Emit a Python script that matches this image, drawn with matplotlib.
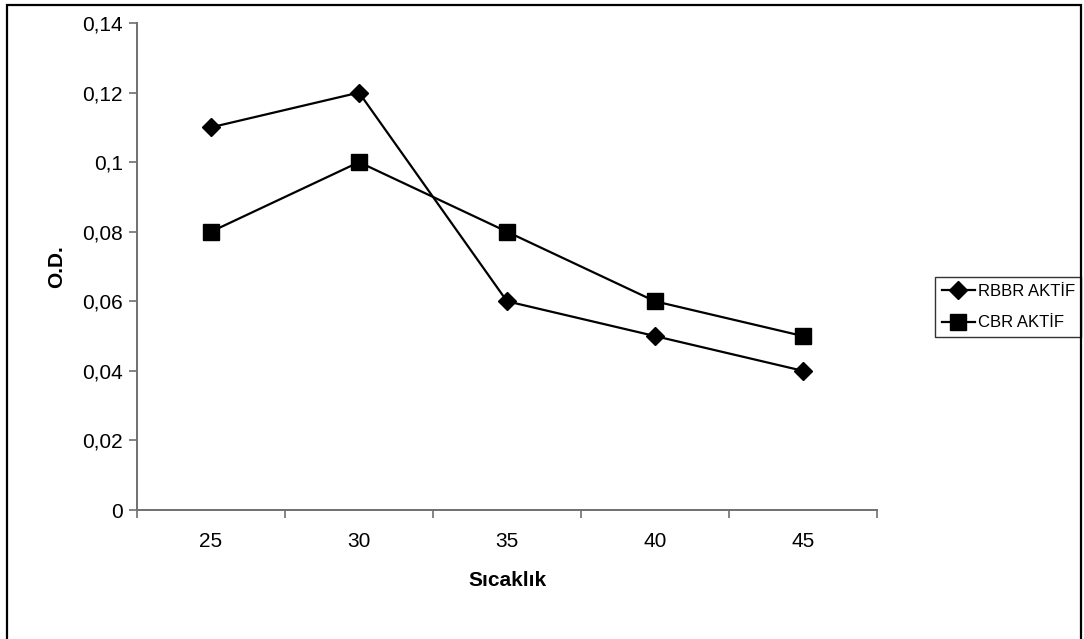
import matplotlib
matplotlib.use("Agg")
import matplotlib.pyplot as plt
from matplotlib.patches import Rectangle

categories = ["25", "30", "35", "40", "45"]
rbbr = [0.11, 0.12, 0.06, 0.05, 0.04]
cbr = [0.08, 0.10, 0.08, 0.06, 0.05]
yticks = [0, 0.02, 0.04, 0.06, 0.08, 0.10, 0.12, 0.14]
ytick_labels = ["0", "0,02", "0,04", "0,06", "0,08", "0,1", "0,12", "0,14"]

plt.rcParams['font.family'] = ['Liberation Sans', 'DejaVu Sans']
W, H = 1084, 639
fig = plt.figure(figsize=(W / 100, H / 100), dpi=100)
fig.patch.set_facecolor("white")

# outer border
fig.add_artist(Rectangle((7 / W, -0.05), (1081 - 7) / W, 1.05 - 4.5 / H,
                         transform=fig.transFigure, fill=False,
                         edgecolor="black", linewidth=1.6))

ax = fig.add_axes([137 / W, 1 - 510 / H, (877 - 137) / W, (510 - 23) / H])
x = list(range(len(categories)))
ax.plot(x, rbbr, color="black", lw=1.6, marker="D", markersize=9.5,
        label="RBBR AKTİF")
ax.plot(x, cbr, color="black", lw=1.6, marker="s", markersize=11,
        label="CBR AKTİF")

ax.set_xlim(-0.5, len(categories) - 0.5)
ax.set_ylim(0, 0.14)
ax.set_yticks(yticks)
ax.set_yticklabels(ytick_labels, fontsize=15)
ax.set_xticks(x)
ax.set_xticklabels(categories, fontsize=15)
ax.set_xticks([i - 0.5 for i in range(len(categories) + 1)], minor=True)
ax.tick_params(axis="x", which="major", length=0, pad=16)
ax.tick_params(axis="x", which="minor", length=6, color="#707070", width=1.2)
ax.tick_params(axis="y", length=6, color="#707070", width=1.2, pad=4)
for s in ["top", "right"]:
    ax.spines[s].set_visible(False)
for s in ["left", "bottom"]:
    ax.spines[s].set_color("#707070")
    ax.spines[s].set_linewidth(1.4)

ax.set_xlabel("Sıcaklık", fontsize=15, fontweight="bold", labelpad=14)
ax.set_ylabel("O.D.", fontsize=15, fontweight="bold", labelpad=12)

leg = ax.legend(loc="center left", bbox_to_anchor=(935 / W, 1 - 307 / H),
                bbox_transform=fig.transFigure, fontsize=12, frameon=True,
                fancybox=False, edgecolor="black", handlelength=2.0,
                handletextpad=0.15, borderpad=0.4, labelspacing=1.0,
                borderaxespad=0)
leg.get_frame().set_linewidth(1.0)

fig.savefig("out.png", dpi=100)
